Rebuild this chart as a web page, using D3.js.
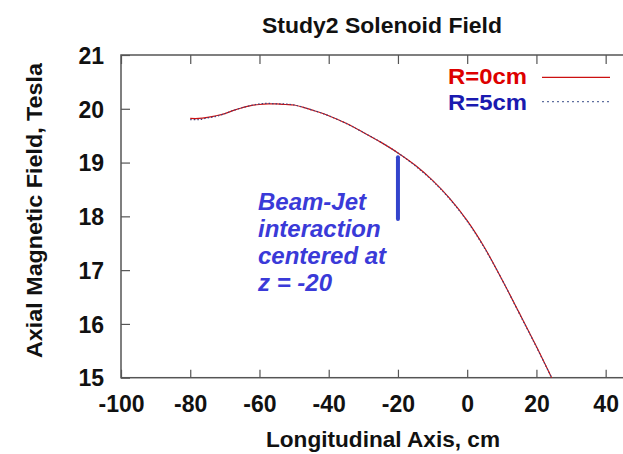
<!DOCTYPE html>
<html>
<head>
<meta charset="utf-8">
<script src="https://cdn.jsdelivr.net/npm/d3@7"></script>
<style>
  html, body { margin: 0; padding: 0; background: #fff; }
  svg { display: block; }
  text { font-family: "Liberation Sans", Arial, Helvetica, sans-serif; }
</style>
</head>
<body>
<div id="chart"></div>
<script>
// ---- data ----
const zPositions = [-80, -77.5, -75, -72.5, -70, -67.5, -65, -62.5, -60, -57.5, -55, -52.5, -50, -47.5, -45, -42.5, -40, -35, -30, -25, -20, -15, -10, -5, 0, 5, 10, 15, 20, 24.4];
const fieldR0 = [19.82, 19.82, 19.84, 19.87, 19.91, 19.97, 20.02, 20.06, 20.08, 20.09, 20.09, 20.08, 20.07, 20.03, 19.98, 19.93, 19.87, 19.73, 19.56, 19.38, 19.18, 18.95, 18.67, 18.33, 17.92, 17.42, 16.83, 16.21, 15.58, 15.0];
const fieldR5 = [19.80, 19.80, 19.83, 19.86, 19.91, 19.97, 20.02, 20.06, 20.09, 20.10, 20.09, 20.09, 20.07, 20.03, 19.98, 19.93, 19.87, 19.73, 19.56, 19.38, 19.18, 18.94, 18.66, 18.32, 17.91, 17.41, 16.83, 16.20, 15.57, 15.0];
const xTicks = [-100, -80, -60, -40, -20, 0, 20, 40];
const yTicks = [15, 16, 17, 18, 19, 20, 21];
const seriesNames = ["R=0cm", "R=5cm"];
const annotationLines = ["Beam-Jet", "interaction", "centered at", "z = -20"];
const markerZ = -20;
const markerRange = [17.95, 19.1];

// ---- chart ----
const W = 623, H = 454;
const svg = d3.select("#chart").append("svg").attr("width", W).attr("height", H);
svg.append("rect").attr("width", W).attr("height", H).attr("fill", "#fff");

const x = d3.scaleLinear().domain([-100, 60]).range([121, 674.9]);
const y = d3.scaleLinear().domain([15, 21]).range([377.7, 55]);

const axisColor = "#555";

svg.append("defs").append("clipPath").attr("id", "plotclip")
  .append("rect").attr("x", x(-100)).attr("y", y(21)).attr("width", x(60) - x(-100)).attr("height", y(15) - y(21));

// frame
svg.append("rect")
  .attr("x", x(-100)).attr("y", y(21))
  .attr("width", x(60) - x(-100)).attr("height", y(15) - y(21))
  .attr("fill", "none").attr("stroke", axisColor).attr("stroke-width", 1.5);

// bottom axis
const gx = svg.append("g").attr("transform", `translate(0,${y(15)})`)
  .call(d3.axisBottom(x).tickValues(xTicks).tickSize(-8).tickFormat(d => String(d)));
gx.select(".domain").remove();
gx.selectAll(".tick line").attr("stroke", axisColor).attr("stroke-width", 1.2);
gx.selectAll(".tick text")
  .attr("y", 34).attr("dy", 0)
  .attr("fill", "#111")
  .style("font-size", "23px").style("font-weight", "bold");

// top axis ticks
const gt = svg.append("g").attr("transform", `translate(0,${y(21)})`)
  .call(d3.axisTop(x).tickValues(xTicks).tickSize(-9).tickFormat(""));
gt.select(".domain").remove();
gt.selectAll(".tick line").attr("stroke", axisColor).attr("stroke-width", 1.2);

// left axis
const gy = svg.append("g").attr("transform", `translate(${x(-100)},0)`)
  .call(d3.axisLeft(y).tickValues(yTicks).tickSize(-9).tickFormat(d => String(d)));
gy.select(".domain").remove();
gy.selectAll(".tick line").attr("stroke", axisColor).attr("stroke-width", 1.2);
gy.selectAll(".tick text")
  .attr("x", -17).attr("dy", "0.36em")
  .attr("fill", "#111")
  .style("font-size", "23px").style("font-weight", "bold");

// title
svg.append("text").attr("x", 382).attr("y", 33).attr("text-anchor", "middle")
  .attr("textLength", 240).attr("lengthAdjust", "spacingAndGlyphs")
  .style("font-size", "22px").style("font-weight", "bold").attr("fill", "#111")
  .text("Study2 Solenoid Field");

// x axis title
svg.append("text").attr("x", 383).attr("y", 447).attr("text-anchor", "middle")
  .attr("textLength", 234).attr("lengthAdjust", "spacingAndGlyphs")
  .style("font-size", "22px").style("font-weight", "bold").attr("fill", "#111")
  .text("Longitudinal Axis, cm");

// y axis title
svg.append("text").attr("transform", "translate(42,210.5) rotate(-90)")
  .attr("text-anchor", "middle")
  .attr("textLength", 295).attr("lengthAdjust", "spacingAndGlyphs")
  .style("font-size", "22px").style("font-weight", "bold").attr("fill", "#111")
  .text("Axial Magnetic Field, Tesla");

// curves
const plot = svg.append("g").attr("clip-path", "url(#plotclip)");
const line = d3.line().x((d, i) => x(zPositions[i])).y(d => y(d)).curve(d3.curveCatmullRom);
plot.append("path").datum(fieldR0).attr("d", line)
  .attr("fill", "none").attr("stroke", "#cc1010").attr("stroke-width", 1.2);
plot.append("path").datum(fieldR5).attr("d", line)
  .attr("fill", "none").attr("stroke", "#40407a").attr("stroke-width", 1.2)
  .attr("stroke-dasharray", "1.5,2");

// marker line
plot.append("line")
  .attr("x1", x(markerZ)).attr("x2", x(markerZ))
  .attr("y1", y(markerRange[1])).attr("y2", y(markerRange[0]))
  .attr("stroke", "#3344cc").attr("stroke-width", 4).attr("stroke-linecap", "round");

// annotation
const ann = svg.append("text")
  .style("font-size", "24px").style("font-weight", "bold").style("font-style", "italic")
  .attr("fill", "#3a3ad8");
annotationLines.forEach((t, i) => {
  ann.append("tspan").attr("x", 258).attr("y", 210 + i * 27).text(t);
});

// legend
const legendColors = ["#dd0000", "#1a1ab0"];
const legendY = [84, 110];
const lineY = [77.3, 101.7];
seriesNames.forEach((name, i) => {
  svg.append("text").attr("x", 527).attr("y", legendY[i]).attr("text-anchor", "end")
    .attr("textLength", 79).attr("lengthAdjust", "spacingAndGlyphs")
    .style("font-size", "22px").style("font-weight", "bold").attr("fill", legendColors[i])
    .text(name);
});
svg.append("line").attr("x1", 542).attr("x2", 610).attr("y1", lineY[0]).attr("y2", lineY[0])
  .attr("stroke", "#cc1010").attr("stroke-width", 1.2);
svg.append("line").attr("x1", 542).attr("x2", 610).attr("y1", lineY[1]).attr("y2", lineY[1])
  .attr("stroke", "#6070a0").attr("stroke-width", 1.2).attr("stroke-dasharray", "2,3");
</script>
</body>
</html>
